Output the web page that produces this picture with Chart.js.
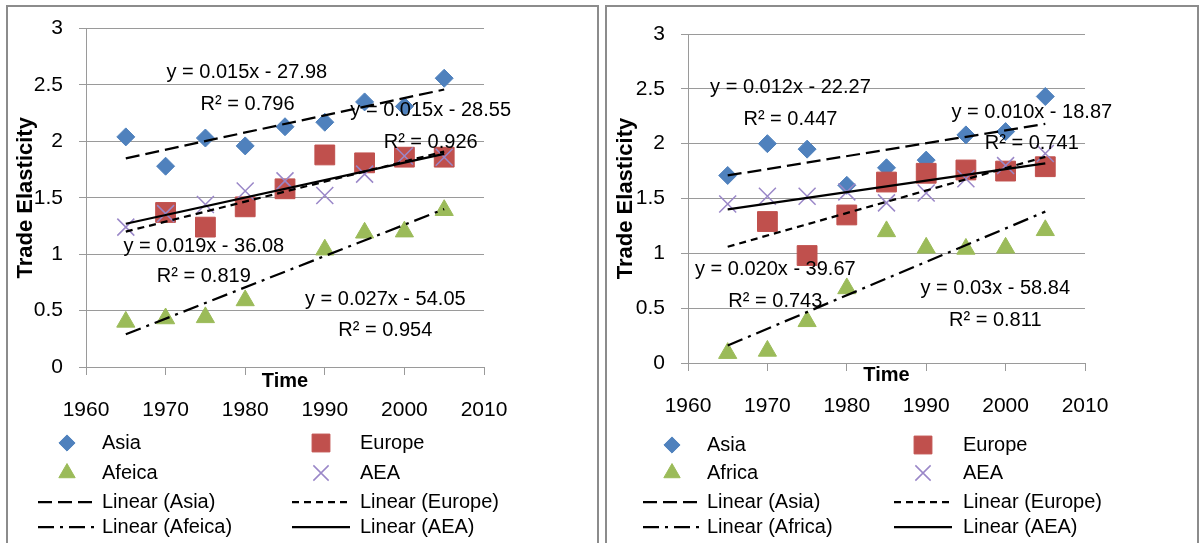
<!DOCTYPE html>
<html>
<head>
<meta charset="utf-8">
<script src="https://cdn.jsdelivr.net/npm/chart.js@4.4.1/dist/chart.umd.min.js"></script>
<style>
body { margin: 0; background: #fff; width: 1199px; height: 543px; overflow: hidden; position: relative; }
.frame { position: absolute; top: 5px; height: 600px; border: 2px solid #8c8c8c; box-sizing: border-box; }
canvas { position: absolute; top: 0; }
</style>
</head>
<body>
<div class="frame" style="left:6px;width:593px"></div>
<div class="frame" style="left:605px;width:594px"></div>
<canvas id="leftChart" width="600" height="543" style="left:0"></canvas>
<canvas id="rightChart" width="599" height="543" style="left:600px"></canvas>
<script>
// years on the x axis
var years = [1965, 1970, 1975, 1980, 1985, 1990, 1995, 2000, 2005];

// left panel values
var asiaL   = [2.04, 1.78, 2.03, 1.96, 2.13, 2.17, 2.35, 2.31, 2.56];
var europeL = [null, 1.37, 1.24, 1.42, 1.58, 1.88, 1.81, 1.86, 1.86];
var africaL = [0.40, 0.43, 0.44, 0.59, null, 1.04, 1.19, 1.20, 1.39];
var aeaL    = [1.24, 1.36, 1.44, 1.56, 1.65, 1.52, 1.71, 1.87, 1.86];

// right panel values
var asiaR   = [1.71, 2.00, 1.95, 1.62, 1.78, 1.85, 2.08, 2.11, 2.43];
var europeR = [null, 1.29, 0.98, 1.35, 1.65, 1.73, 1.76, 1.75, 1.79];
var africaR = [0.09, 0.11, 0.38, 0.68, 1.20, 1.05, 1.04, 1.05, 1.21];
var aeaR    = [1.45, 1.52, 1.52, 1.56, 1.46, 1.55, 1.68, 1.80, 1.91];

// trendlines (start and end value)
var trendYears = [1965, 2005];
var trendAsiaL   = [1.85, 2.46];
var trendEuropeL = [1.20, 1.91];
var trendAfricaL = [0.29, 1.40];
var trendAeaL    = [1.27, 1.89];
var trendAsiaR   = [1.71, 2.18];
var trendEuropeR = [1.06, 1.88];
var trendAfricaR = [0.16, 1.38];
var trendAeaR    = [1.40, 1.82];

// trendline equations shown on the charts
var eqLeft  = ['y = 0.015x - 27.98', 'R\u00b2 = 0.796', 'y = 0.015x - 28.55', 'R\u00b2 = 0.926',
               'y = 0.019x - 36.08', 'R\u00b2 = 0.819', 'y = 0.027x - 54.05', 'R\u00b2 = 0.954'];
var eqRight = ['y = 0.012x - 22.27', 'R\u00b2 = 0.447', 'y = 0.010x - 18.87', 'R\u00b2 = 0.741',
               'y = 0.020x - 39.67', 'R\u00b2 = 0.743', 'y = 0.03x - 58.84', 'R\u00b2 = 0.811'];

var FONT = '"Liberation Sans", Arial, sans-serif';
var GRID = '#9a9a9a';
Chart.defaults.font.family = FONT;
Chart.defaults.font.size = 21;
Chart.defaults.color = '#000';

function toPoints(xs, ys) {
    var pts = [];
    for (var i = 0; i < xs.length; i++) {
        if (ys[i] !== null) pts.push({x: xs[i], y: ys[i]});
    }
    return pts;
}

function markerSet(label, vals, style, fill, stroke, radius, width, order) {
    return {
        label: label, data: toPoints(years, vals), showLine: false,
        pointStyle: style, pointRadius: radius, pointHoverRadius: radius,
        backgroundColor: fill, borderColor: stroke, borderWidth: width,
        pointBackgroundColor: fill, pointBorderColor: stroke, pointBorderWidth: width,
        order: order
    };
}

function trendSet(label, vals, dash) {
    return {
        label: label, data: toPoints(trendYears, vals), showLine: true,
        pointRadius: 0, borderColor: '#000', borderWidth: 2.25, borderDash: dash,
        backgroundColor: '#000', order: 0
    };
}

// equation text placed at data coordinates
var eqLabels = {
    id: 'eqLabels',
    afterDatasetsDraw: function(chart, args, opts) {
        var ctx = chart.ctx, xs = chart.scales.x, ys = chart.scales.y;
        ctx.save();
        ctx.font = '20px ' + FONT;
        ctx.fillStyle = '#000';
        ctx.textAlign = 'center';
        ctx.textBaseline = 'middle';
        opts.texts.forEach(function(t, i) {
            var p = opts.at[i];
            ctx.fillText(t, xs.getPixelForValue(p[0]), ys.getPixelForValue(p[1]));
        });
        ctx.restore();
    }
};

// two column legend like the excel one
var gridLegend = {
    id: 'gridLegend',
    afterDraw: function(chart, args, o) {
        var ctx = chart.ctx;
        chart.data.datasets.forEach(function(ds, i) {
            var col = i % 2, y = o.rows[Math.floor(i / 2)], cx = o.markX[col];
            ctx.save();
            ctx.fillStyle = ds.backgroundColor;
            ctx.strokeStyle = ds.borderColor;
            ctx.lineWidth = ds.borderWidth;
            if (ds.showLine) {
                ctx.setLineDash(ds.borderDash || []);
                ctx.beginPath();
                ctx.moveTo(cx - o.half, y);
                ctx.lineTo(cx + o.half, y);
                ctx.stroke();
            } else {
                Chart.helpers.drawPoint(ctx, {pointStyle: ds.pointStyle, radius: ds.pointRadius * 0.9,
                    borderWidth: ds.borderWidth, rotation: 0}, cx, y);
            }
            ctx.setLineDash([]);
            ctx.fillStyle = '#000';
            ctx.font = '20px ' + FONT;
            ctx.textAlign = 'left';
            ctx.textBaseline = 'middle';
            ctx.fillText(ds.label, o.textX[col], y);
            ctx.restore();
        });
    }
};

function makeChart(id, width, area, sets, trends, names, eqTexts, eqAt, titlePad, legendPos) {
    var hT = 28, hL = 30;
    var datasets = [
        markerSet(names[0], sets[0], 'rectRot', '#4f81bd', '#4f81bd', 9, 1, 4),
        markerSet(names[1], sets[1], 'rect', '#c0504d', '#c0504d', 14, 1, 3),
        markerSet(names[2], sets[2], 'triangle', '#9bbb59', '#9bbb59', 10.5, 1, 2),
        markerSet(names[3], sets[3], 'crossRot', 'rgba(0,0,0,0)', '#9a87c8', 12, 1.5, 1),
        trendSet('Linear (' + names[0] + ')', trends[0], [14, 6]),
        trendSet('Linear (' + names[1] + ')', trends[1], [7, 5]),
        trendSet('Linear (' + names[2] + ')', trends[2], [16, 6, 3, 6]),
        trendSet('Linear (' + names[3] + ')', trends[3], [])
    ];
    return new Chart(document.getElementById(id), {
        type: 'scatter',
        data: {datasets: datasets},
        plugins: [eqLabels, gridLegend],
        options: {
            responsive: false,
            animation: false,
            layout: {padding: {left: 0, top: area.top, right: width - area.right,
                               bottom: 543 - area.bottom - hT - hL}},
            plugins: {
                legend: {display: false},
                tooltip: {enabled: false},
                eqLabels: {texts: eqTexts, at: eqAt},
                gridLegend: legendPos
            },
            scales: {
                x: {
                    type: 'linear', position: 'bottom', min: 1960, max: 2010, weight: 0,
                    ticks: {display: false, stepSize: 10},
                    grid: {drawOnChartArea: false, drawTicks: true, tickLength: 8, color: GRID},
                    border: {color: GRID},
                    title: {display: true, text: 'Time', font: {size: 20, weight: 'bold'},
                            padding: {top: 0, bottom: titlePad}},
                    afterFit: function(s) { s.height = hT; }
                },
                x2: {
                    type: 'linear', position: 'bottom', min: 1960, max: 2010, weight: 1,
                    ticks: {stepSize: 10, padding: 3, maxRotation: 0, autoSkip: false,
                            callback: function(v) { return String(v); }},
                    grid: {display: false, drawTicks: false},
                    border: {display: false},
                    afterFit: function(s) { s.height = hL; }
                },
                y: {
                    min: 0, max: 3,
                    ticks: {stepSize: 0.5, padding: 16,
                            callback: function(v) { return String(v); }},
                    grid: {color: GRID, tickLength: 7},
                    border: {color: GRID},
                    title: {display: true, text: 'Trade Elasticity', font: {size: 22, weight: 'bold'},
                            padding: {top: 13, bottom: 0}},
                    afterFit: function(s) { s.width = area.left; }
                }
            }
        }
    });
}

makeChart('leftChart', 600, {left: 86, right: 484, top: 27, bottom: 367},
    [asiaL, europeL, africaL, aeaL],
    [trendAsiaL, trendEuropeL, trendAfricaL, trendAeaL],
    ['Asia', 'Europe', 'Afeica', 'AEA'],
    eqLeft,
    [[1980.2, 2.61], [1980.3, 2.33], [2003.3, 2.27], [2003.3, 1.99],
     [1974.8, 1.07], [1974.8, 0.80], [1997.6, 0.60], [1997.6, 0.32]],
    2,
    {rows: [443, 473, 502, 527], markX: [67, 321], textX: [102, 360], half: 29});

makeChart('rightChart', 599, {left: 88, right: 485, top: 34, bottom: 363},
    [asiaR, europeR, africaR, aeaR],
    [trendAsiaR, trendEuropeR, trendAfricaR, trendAeaR],
    ['Asia', 'Europe', 'Africa', 'AEA'],
    eqRight,
    [[1972.9, 2.51], [1972.9, 2.22], [2003.3, 2.28], [2003.3, 2.00],
     [1971.0, 0.85], [1971.0, 0.56], [1998.7, 0.68], [1998.7, 0.39]],
    4,
    {rows: [445, 473, 502, 527], markX: [72, 323], textX: [107, 363], half: 29});
</script>
</body>
</html>
